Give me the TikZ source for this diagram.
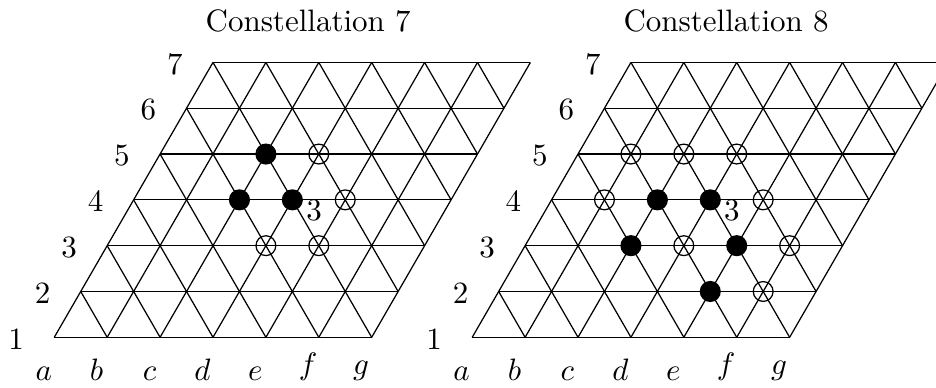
\documentclass[tikz,border=0pt]{standalone}
\usepackage{amsmath,amssymb}
\usepackage{xcolor}
\usepackage{tikz}

\begin{document}
\begin{tikzpicture}[x=0.6cm,y=0.6cm,
  full/.style={circle,draw,fill=black,inner sep=0pt,minimum size=0.225cm},
  empty/.style={circle,draw,inner sep=0pt,minimum size=0.225cm}]
  \useasboundingbox (-1.026,-0.94) rectangle (16.667,6.376);
  \clip (-1.026,-0.94) rectangle (16.667,6.376);
  % the two boards
  \foreach \g/\dx in {7/0,8/7.9} {
    \begin{scope}[shift={(\dx,0)}]
      \node[anchor=base] (title\g) at (4.8,5.78) {Constellation \g};
      \foreach \r [count=\n] in {0,...,6} {
        \draw ({\r/2},{\r*0.866}) -- ({\r/2+6},{\r*0.866});
        \node (row\g\n) at ({\r/2-0.72},{\r*0.866-0.03}) {\n};
      }
      \foreach \c [count=\i from 0] in {a,...,g} {
        \draw (\i,0) -- ({\i+3},{6*0.866});
        \node[anchor=south,inner sep=0pt] (col\g\c) at ({\i-0.2},-0.83) {$\c$};
      }
      \foreach \s in {1,...,11} {
        \pgfmathsetmacro\ra{min(6,\s)}
        \pgfmathsetmacro\rb{max(0,\s-6)}
        \draw ({\s-\ra/2},{\ra*0.866}) -- ({\s-\rb/2},{\rb*0.866});
      }
    \end{scope}
  }
  % constellation 7
  \foreach \i/\r in {2/4,2/3,3/3}
    \node[full] (a\i\r) at ({\i+\r/2},{\r*0.866}) {};
  \foreach \i/\r in {3/4,4/3,3/2,4/2}
    \node[empty] (b\i\r) at ({\i+\r/2},{\r*0.866}) {};
  \node (mark7) at ({4.5+0.41},{3*0.866-0.2}) {3};
  % constellation 8
  \begin{scope}[shift={(7.9,0)}]
    \foreach \i/\r in {2/3,3/3,2/2,4/2,4/1}
      \node[full] (c\i\r) at ({\i+\r/2},{\r*0.866}) {};
    \foreach \i/\r in {1/4,2/4,3/4,1/3,4/3,3/2,5/2,5/1}
      \node[empty] (d\i\r) at ({\i+\r/2},{\r*0.866}) {};
    \node (mark8) at ({4.5+0.41},{3*0.866-0.2}) {3};
  \end{scope}
\end{tikzpicture}
\end{document}
